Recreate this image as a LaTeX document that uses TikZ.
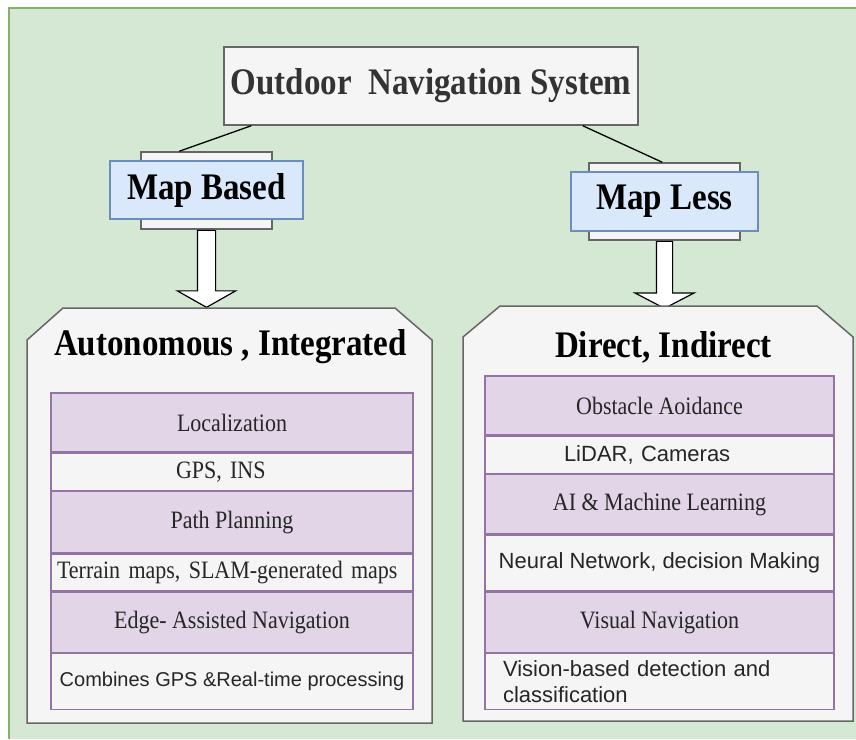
\documentclass[tikz,border=0pt]{standalone}
\usepackage{fontspec}
\setmainfont{Liberation Serif}[FakeStretch=0.88]
\setsansfont{Liberation Sans}
\usetikzlibrary{positioning, shapes.arrows}

\definecolor{bggreen}{HTML}{D5E8D4}
\definecolor{bgline}{HTML}{82B366}
\definecolor{boxfill}{HTML}{F5F5F5}
\definecolor{boxline}{HTML}{666666}
\definecolor{bluefill}{HTML}{DAE8FC}
\definecolor{blueline}{HTML}{6C8EBF}
\definecolor{rowfill}{HTML}{E1D5E7}
\definecolor{rowline}{HTML}{9673A6}
\definecolor{titletext}{HTML}{333333}

\tikzset{
  headtext/.style={font=\fontsize{37.5}{44}\selectfont\bfseries},
  greybox/.style={draw=boxline, fill=boxfill, line width=1.5pt, inner sep=0pt},
  bluebox/.style={draw=blueline, fill=bluefill, line width=1.3pt, inner sep=0pt, headtext},
  link/.style={draw=black, line width=1.3pt},
  blockarr/.style={single arrow, draw=black, fill=white, line width=1.2pt,
    inner xsep=0pt, rotate=-90, anchor=tail},
  serifrow/.style={font=\fontsize{25}{29}\selectfont, text=black!85},
  sansrow/.style={font=\sffamily\fontsize{22}{26.4}\selectfont, text=black!85},
  purplerow/.style={draw=rowline, fill=rowfill, line width=1.3pt, inner sep=0pt, serifrow},
  whiterow/.style={draw=rowline, fill=boxfill, line width=1.3pt, inner sep=0pt},
}

\begin{document}
\begin{tikzpicture}[x=1pt, y=-1pt]
\useasboundingbox (0,0) rectangle (856,739);

% background
\fill[bggreen] (9,8) rectangle (856,739);
\draw[bgline, line width=2pt] (9,739) -- (9,8) -- (856,8);

% top of the tree
\node[greybox, minimum width=414, minimum height=78, headtext, text=titletext] (title) at (431,86) {Outdoor\ \ Navigation System};

\node[greybox, minimum width=131, minimum height=77] (mbback) at (206.5,190.5) {};
\node[bluebox, minimum width=193, minimum height=58] (mapbased) at (206.5,190) {Map Based};

\node[greybox, minimum width=151, minimum height=77] (mlback) at (664.5,201.5) {};
\node[bluebox, minimum width=187, minimum height=59] (mapless) at (664.5,201.5) {Map Less};

\draw[link] ([xshift=28pt]title.south west) -- ([xshift=39pt]mbback.north west);
\draw[link] ([xshift=-56pt]title.south east) -- ([xshift=74pt]mlback.north west);

% block arrows
\node[blockarr, minimum height=77, inner ysep=8.5pt, single arrow head extend=20pt,
  single arrow tip angle=121] (mbarrow) at (mbback.south) {};
\node[blockarr, minimum height=67, inner ysep=7.5pt, single arrow head extend=21.5pt,
  single arrow tip angle=125] (mlarrow) at (mlback.south) {};

% map based panel
\draw[greybox] (27,723) -- (27,340) -- (63,308) -- (395,308) -- (432,340) -- (432,723) -- cycle;
\node[headtext] (autohead) at (230.5,347) {Autonomous , Integrated};

\node[purplerow, minimum width=362, minimum height=59] (loc) at (232,422.5) {Localization};
\node[whiterow, serifrow, minimum height=37, below=0pt of loc, align=left,
  inner xsep=125pt, text width=112pt] (gps) {GPS, INS};
\node[purplerow, minimum width=362, minimum height=61, below=0pt of gps] (path) {Path Planning};
\node[whiterow, serifrow, minimum height=37, below=0pt of path, align=left,
  inner xsep=6pt, text width=350pt] (terrain) {Terrain maps, SLAM-generated maps};
\node[purplerow, minimum width=362, minimum height=60, below=0pt of terrain] (edge) {Edge- Assisted Navigation};
\node[whiterow, minimum width=362, minimum height=56, below=0pt of edge,
  font=\sffamily\fontsize{20}{24}\selectfont, text=black!85] (combine) {Combines GPS \&Real-time processing};

% map less panel
\draw[greybox] (463,721) -- (463,337) -- (500,306) -- (817,306) -- (853,337) -- (853,721) -- cycle;
\node[headtext] (directhead) at (663.5,347) {Direct, Indirect};

\node[purplerow, minimum width=349, minimum height=59] (obstacle) at (659.5,405.5) {Obstacle Aoidance};
\node[whiterow, sansrow, minimum height=37, below=0pt of obstacle, align=left,
  inner xsep=79pt, text width=191pt] (lidar) {LiDAR, Cameras};
\node[purplerow, minimum width=349, minimum height=59, below=0pt of lidar] (ai) {AI \& Machine Learning};
\node[whiterow, sansrow, minimum width=349, minimum height=56, below=0pt of ai] (neural) {Neural Network, decision Making};
\node[purplerow, minimum width=349, minimum height=60, below=0pt of neural] (visual) {Visual Navigation};
\node[whiterow, sansrow, minimum height=56, below=0pt of visual, align=left,
  inner xsep=18pt, text width=313pt] (vision) {Vision-based detection and\\classification};
\end{tikzpicture}
\end{document}
